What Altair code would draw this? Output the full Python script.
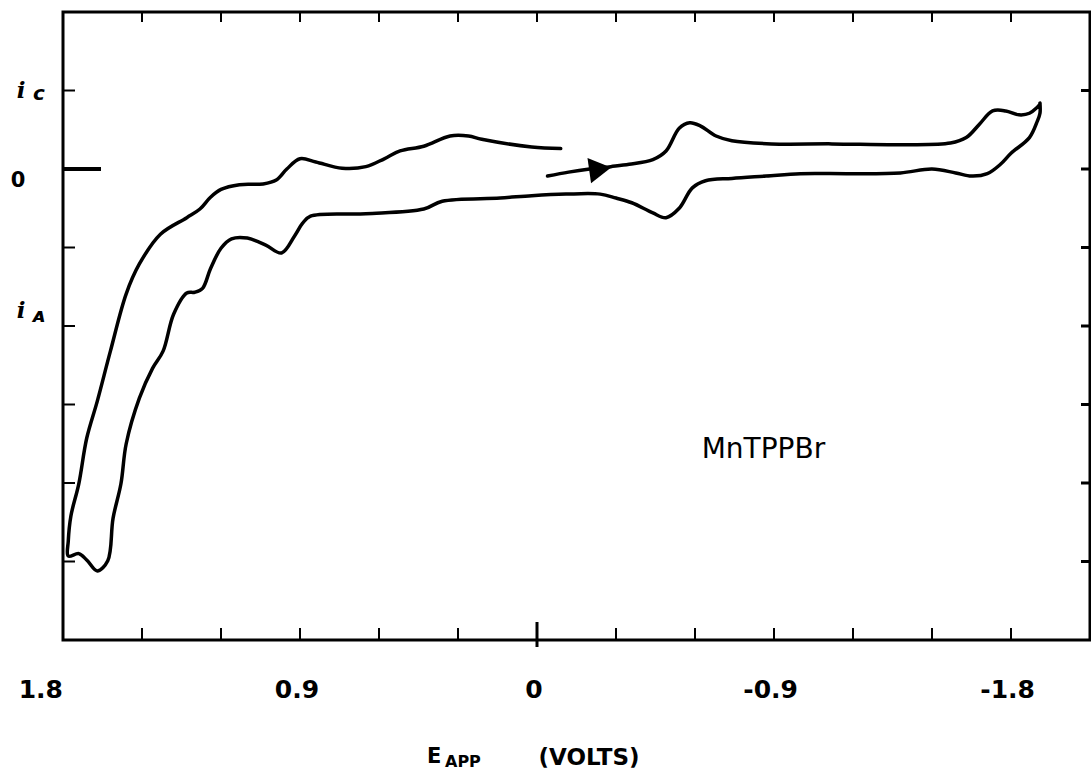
import altair as alt
import pandas as pd

# ---- cyclic voltammogram trace (E in volts, current in relative units), in scan order ----
E_vals = [
    -0.04, -0.12, -0.20, -0.28, -0.35, -0.44, -0.49, -0.54, -0.58, -0.62,
    -0.68, -0.74, -0.89, -1.12, -1.38, -1.57, -1.63, -1.68, -1.73, -1.78,
    -1.83, -1.87, -1.91, -1.91,
    -1.91, -1.90, -1.87, -1.80, -1.76, -1.71, -1.65, -1.59, -1.50, -1.38,
    -1.19, -1.00, -0.87, -0.74, -0.64, -0.59, -0.54, -0.49, -0.44, -0.36,
    -0.30, -0.24, -0.11, 0.02, 0.14, 0.36, 0.43, 0.65, 0.86, 0.89,
    0.92, 0.97, 1.03, 1.10, 1.16, 1.20, 1.24, 1.27, 1.30, 1.33,
    1.38, 1.42, 1.46, 1.51, 1.56, 1.58, 1.61, 1.63, 1.67, 1.71,
    1.74, 1.78,
    1.78, 1.77, 1.74, 1.71, 1.67, 1.62, 1.56, 1.51, 1.43, 1.33,
    1.28, 1.24, 1.20, 1.13, 1.04, 0.99, 0.95, 0.90, 0.84, 0.74,
    0.65, 0.58, 0.52, 0.43, 0.33, 0.26, 0.21, 0.02, -0.09,
]
I_vals = [
    -0.09, -0.04, 0.00, 0.03, 0.06, 0.12, 0.23, 0.52, 0.59, 0.55,
    0.42, 0.36, 0.32, 0.32, 0.31, 0.33, 0.40, 0.57, 0.74, 0.74,
    0.69, 0.71, 0.83, 0.84,
    0.71, 0.61, 0.40, 0.20, 0.06, -0.06, -0.09, -0.05, 0.00, -0.05,
    -0.06, -0.06, -0.09, -0.12, -0.15, -0.24, -0.50, -0.62, -0.56, -0.43,
    -0.37, -0.32, -0.32, -0.34, -0.37, -0.41, -0.51, -0.57, -0.60, -0.69,
    -0.85, -1.07, -0.97, -0.88, -0.89, -1.01, -1.27, -1.52, -1.57, -1.58,
    -1.85, -2.32, -2.54, -2.92, -3.50, -4.01, -4.45, -4.99, -5.12, -4.98,
    -4.90, -4.93,
    -4.74, -4.42, -4.01, -3.43, -2.96, -2.32, -1.59, -1.21, -0.83, -0.62,
    -0.51, -0.36, -0.26, -0.20, -0.19, -0.14, 0.00, 0.13, 0.09, 0.01,
    0.03, 0.13, 0.23, 0.29, 0.42, 0.42, 0.38, 0.28, 0.26,
]

# scan-direction arrow
arrow_E = [-0.24]
arrow_I = [0.0]

# x-axis labels (potential, V)
x_label_left = ["1.8"]
x_label_left_pos = [1.8]
x_label_mid = ["0.9", "0"]
x_label_mid_pos = [0.9, 0.0]
x_label_neg = ["-0.9", "-1.8"]
x_label_neg_pos = [-0.9, -1.8]

# tick marks
x_tick_values = [1.5, 1.2, 0.9, 0.6, 0.3, -0.3, -0.6, -0.9, -1.2, -1.5, -1.8]
x_top_tick_values = [1.5, 1.2, 0.9, 0.6, 0.3, 0.0, -0.3, -0.6, -0.9, -1.2, -1.5, -1.8]
y_tick_values = [1, -1, -2, -3, -4, -5]
y_right_tick_values = [1, 0, -1, -2, -3, -4, -5]

# y-axis labels ("i_c", "0", "i_A") and where they sit on the current axis
y_main_labels = ["i", "i"]
y_main_label_pos = [1.0, -1.81]
y_sub_labels = ["c", "ᴀ"]
y_sub_label_pos = [0.96, -1.87]
y_zero_label = ["0"]
y_zero_label_pos = [-0.15]

compound = ["MnTPPBr"]
compound_E = [-0.86]
compound_I = [-3.58]

W, H = 1027, 628
xs = alt.Scale(domain=[1.8, -2.1], nice=False, zero=False)
ys = alt.Scale(domain=[-6, 2], nice=False, zero=False)

df = pd.DataFrame({"E": E_vals, "i": I_vals, "k": list(range(len(E_vals)))})

curve = alt.Chart(df).mark_line(
    color="black", strokeWidth=3.5, interpolate="catmull-rom",
    strokeCap="round", strokeJoin="round",
).encode(
    x=alt.X("E:Q", scale=xs, axis=None),
    y=alt.Y("i:Q", scale=ys, axis=None),
    order="k:Q",
)

arrow = alt.Chart(pd.DataFrame({"E": arrow_E, "i": arrow_I})).mark_point(
    shape="triangle-right", filled=True, color="black", opacity=1, size=650, angle=352,
).encode(
    x=alt.X("E:Q", scale=xs, axis=None),
    y=alt.Y("i:Q", scale=ys, axis=None),
)

bottom_ticks = alt.Chart(pd.DataFrame({"E": x_tick_values})).mark_rule(
    color="black", strokeWidth=2).encode(
    x=alt.X("E:Q", scale=xs, axis=None), y=alt.value(H), y2=alt.value(H - 12))
bottom_zero = alt.Chart(pd.DataFrame({"E": [0.0]})).mark_rule(
    color="black", strokeWidth=3).encode(
    x=alt.X("E:Q", scale=xs, axis=None), y=alt.value(H + 7), y2=alt.value(H - 18))
top_ticks = alt.Chart(pd.DataFrame({"E": x_top_tick_values})).mark_rule(
    color="black", strokeWidth=2).encode(
    x=alt.X("E:Q", scale=xs, axis=None), y=alt.value(0), y2=alt.value(10))
left_ticks = alt.Chart(pd.DataFrame({"i": y_tick_values})).mark_rule(
    color="black", strokeWidth=2).encode(
    y=alt.Y("i:Q", scale=ys, axis=None), x=alt.value(0), x2=alt.value(12))
left_zero = alt.Chart(pd.DataFrame({"i": [0]})).mark_rule(
    color="black", strokeWidth=4).encode(
    y=alt.Y("i:Q", scale=ys, axis=None), x=alt.value(0), x2=alt.value(38))
right_ticks = alt.Chart(pd.DataFrame({"i": y_right_tick_values})).mark_rule(
    color="black", strokeWidth=3).encode(
    y=alt.Y("i:Q", scale=ys, axis=None), x=alt.value(W - 9), x2=alt.value(W))

LAB = dict(font="DejaVu Sans", fontSize=25, fontWeight="bold", color="black", baseline="alphabetic")
xlab_left = alt.Chart(pd.DataFrame({"t": x_label_left, "E": x_label_left_pos})).mark_text(
    align="right", dx=0, **LAB).encode(
    x=alt.X("E:Q", scale=xs, axis=None), y=alt.value(H + 58), text="t:N")
xlab_mid = alt.Chart(pd.DataFrame({"t": x_label_mid, "E": x_label_mid_pos})).mark_text(
    align="center", dx=-3, **LAB).encode(
    x=alt.X("E:Q", scale=xs, axis=None), y=alt.value(H + 58), text="t:N")
xlab_neg = alt.Chart(pd.DataFrame({"t": x_label_neg, "E": x_label_neg_pos})).mark_text(
    align="right", dx=24, **LAB).encode(
    x=alt.X("E:Q", scale=xs, axis=None), y=alt.value(H + 58), text="t:N")

ylab_main = alt.Chart(pd.DataFrame({"t": y_main_labels, "i": y_main_label_pos})).mark_text(
    font="DejaVu Serif", fontSize=23, fontWeight="bold", fontStyle="italic",
    color="black", align="center", baseline="middle").encode(
    y=alt.Y("i:Q", scale=ys, axis=None), x=alt.value(-42), text="t:N")
ylab_sub = alt.Chart(pd.DataFrame({"t": y_sub_labels, "i": y_sub_label_pos})).mark_text(
    font="DejaVu Sans", fontSize=20, fontWeight="bold", fontStyle="italic",
    color="black", align="center", baseline="middle").encode(
    y=alt.Y("i:Q", scale=ys, axis=None), x=alt.value(-24), text="t:N")
ylab_zero = alt.Chart(pd.DataFrame({"t": y_zero_label, "i": y_zero_label_pos})).mark_text(
    font="DejaVu Sans", fontSize=21, fontWeight="bold",
    color="black", align="center", baseline="middle").encode(
    y=alt.Y("i:Q", scale=ys, axis=None), x=alt.value(-45), text="t:N")

name = alt.Chart(pd.DataFrame({"t": compound, "E": compound_E, "i": compound_I})).mark_text(
    font="DejaVu Sans", fontSize=28, color="black", align="center", baseline="middle").encode(
    x=alt.X("E:Q", scale=xs, axis=None), y=alt.Y("i:Q", scale=ys, axis=None), text="t:N")

title_E = alt.Chart(pd.DataFrame({"t": ["E"]})).mark_text(
    font="DejaVu Sans", fontSize=21, fontWeight="bold", color="black",
    align="left", baseline="alphabetic").encode(
    x=alt.value(364), y=alt.value(751), text="t:N")
title_sub = alt.Chart(pd.DataFrame({"t": ["APP"]})).mark_text(
    font="DejaVu Sans", fontSize=16, fontWeight="bold", color="black",
    align="left", baseline="alphabetic").encode(
    x=alt.value(382), y=alt.value(755), text="t:N")
title_rest = alt.Chart(pd.DataFrame({"t": ["(VOLTS)"]})).mark_text(
    font="DejaVu Sans", fontSize=23, fontWeight="bold", color="black",
    align="center", baseline="alphabetic").encode(
    x=alt.value(526), y=alt.value(753), text="t:N")

chart = alt.layer(
    curve, arrow, bottom_ticks, bottom_zero, top_ticks, left_ticks, left_zero,
    right_ticks, xlab_left, xlab_mid, xlab_neg, ylab_main, ylab_sub, ylab_zero,
    name, title_E, title_sub, title_rest,
).properties(
    width=W, height=H,
    autosize=alt.AutoSizeParams(type="none"),
    padding={"left": 63, "top": 12, "right": 1, "bottom": 139},
    background="white",
).configure_view(
    stroke="black", strokeWidth=3,
)

chart.save("out.html", embed_options={"renderer": "svg", "actions": False})
